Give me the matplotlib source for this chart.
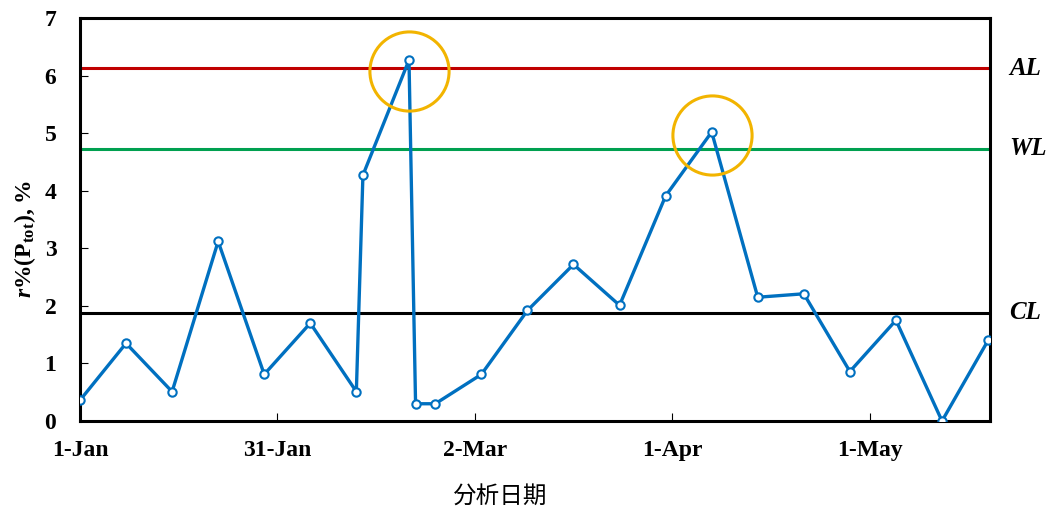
import matplotlib
matplotlib.use("Agg")
from matplotlib import pyplot as plt
import numpy as np
import pandas as pd

plt.rcParams["font.family"] = ["Liberation Serif", "DejaVu Serif"]
plt.rcParams["mathtext.fontset"] = "custom"
plt.rcParams["mathtext.rm"] = "Liberation Serif:bold"
plt.rcParams["mathtext.it"] = "Liberation Serif:italic:bold"
plt.rcParams["mathtext.bf"] = "Liberation Serif:bold"

# sample dates (day offsets from 1-Jan) and measured values
day_offsets = [0, 7, 14, 21, 28, 35, 42, 43, 50, 51, 54, 61, 68, 75, 82,
               89, 96, 103, 110, 117, 124, 131, 138]
values = [0.36, 1.35, 0.51, 3.12, 0.81, 1.70, 0.51, 4.27, 6.27, 0.30, 0.30,
          0.81, 1.92, 2.72, 2.01, 3.91, 5.02, 2.15, 2.21, 0.86, 1.75, 0.0, 1.40]

# control limits
limit_names = ["AL", "WL", "CL"]
limit_values = [6.13, 4.73, 1.88]
limit_colors = ["#C00000", "#00A050", "#000000"]

# highlighted points (circles)
circle_days = [50, 96]
circle_values = [6.08, 4.97]

tick_days = [0, 30, 60, 90, 120]
tick_labels = ["1-Jan", "31-Jan", "2-Mar", "1-Apr", "1-May"]

start = pd.Timestamp("2023-01-01")
dates = start + pd.to_timedelta(day_offsets, unit="D")
circle_dates = start + pd.to_timedelta(circle_days, unit="D")
tick_dates = start + pd.to_timedelta(tick_days, unit="D")

fig = plt.figure(figsize=(10.48, 5.12), dpi=100)
ax = fig.add_axes([0.0763, 0.1777, 0.8684, 0.7871])

for name, val, col in zip(limit_names, limit_values, limit_colors):
    ax.axhline(val, color=col, lw=2.2, zorder=2)
    ax.text(1.021, val, name, transform=ax.get_yaxis_transform(),
            fontsize=18, fontweight="bold", fontstyle="italic",
            va="center", ha="left")

ax.plot(dates, values, color="#0070C0", lw=2.4, marker="o", markersize=6,
        markerfacecolor="white", markeredgecolor="#0070C0",
        markeredgewidth=1.5, zorder=3)

ax.plot(circle_dates, circle_values, linestyle="none", marker="o",
        markersize=57, markerfacecolor="none", markeredgecolor="#F2B400",
        markeredgewidth=2.2, zorder=4, clip_on=False)

ax.set_xlim(start, start + pd.Timedelta(days=138.3))
ax.set_ylim(0, 7)
ax.set_xticks(tick_dates)
ax.set_xticklabels(tick_labels)
ax.set_yticks(range(0, 8))

for s in ax.spines.values():
    s.set_linewidth(2.2)

ax.tick_params(axis="x", direction="in", length=6, width=0.8, pad=14,
               labelsize=17)
ax.tick_params(axis="y", direction="in", length=6, width=0.8, pad=17,
               labelsize=17)
for lab in ax.get_xticklabels() + ax.get_yticklabels():
    lab.set_fontweight("bold")

ax.set_ylabel(r"$\it{r}$%(P$_{\rm tot}$), %", fontsize=17,
              fontweight="bold", va="center")
ax.yaxis.set_label_coords(-0.060, 0.452)
ax.set_xlabel("分析日期", fontsize=17, fontweight="medium", va="center",
              family=["Noto Sans CJK SC", "DejaVu Sans"])
ax.xaxis.set_label_coords(0.4615, -0.189)

plt.savefig("out.png", dpi=100)
